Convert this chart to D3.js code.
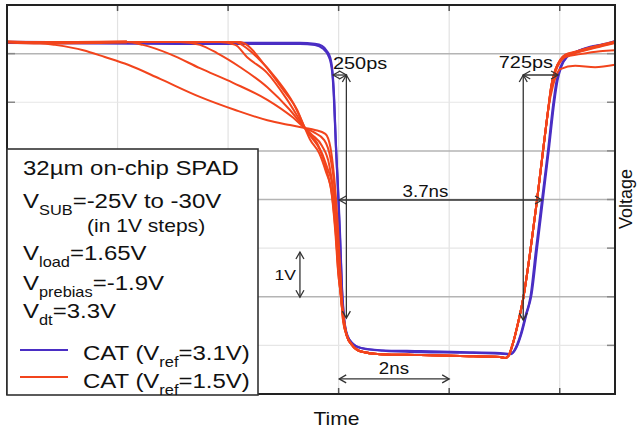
<!DOCTYPE html>
<html>
<head>
<meta charset="utf-8">
<script src="https://cdn.jsdelivr.net/npm/d3@7"></script>
<style>
  html, body { margin: 0; padding: 0; background: #fff; }
  svg { display: block; font-family: "Liberation Sans", Arial, sans-serif; }
</style>
</head>
<body>
<div id="chart"></div>
<script>
// time in ns, voltage in V (one grid division = 2 ns horizontally, 1 V vertically)
const xGrid = [2, 4, 6, 8, 10];
const yGridStrong = [7, 5, 4, 2];
const yGridFaint = [6, 3, 1];

// CAT, Vref = 3.1V (blue traces, nearly identical for every VSUB)
const blueA = [[0,7.24],[3.49,7.22],[5.30,7.22],[5.57,7.20],[5.70,7.16],[5.79,7.05],[5.85,6.91],[5.88,6.72],[5.90,6.46],[5.92,6.05],[5.95,5.12],[5.99,4.20],[6.03,3.17],[6.06,2.14],[6.10,1.52],[6.15,1.21],[6.24,1.05],[6.39,0.95],[6.75,0.90],[7.48,0.88],[8.20,0.86],[8.92,0.84],[9.10,0.82],[9.18,0.90],[9.29,1.21],[9.38,1.60],[9.47,1.99],[9.57,2.96],[9.68,3.99],[9.79,5.02],[9.88,5.94],[9.94,6.42],[10.01,6.72],[10.12,6.93],[10.28,7.03],[10.55,7.14],[10.82,7.20],[11.0,7.26]];
const blueB = [[0,7.22],[3.49,7.20],[5.30,7.20],[5.57,7.18],[5.72,7.10],[5.81,6.97],[5.86,6.80],[5.89,6.55],[5.91,6.20],[5.94,5.40],[5.98,4.40],[6.02,3.30],[6.06,2.20],[6.10,1.55],[6.16,1.20],[6.26,1.03],[6.42,0.94],[6.80,0.89],[7.50,0.86],[8.20,0.85],[8.92,0.83],[9.12,0.82],[9.20,0.92],[9.31,1.25],[9.40,1.65],[9.49,2.05],[9.59,3.00],[9.70,4.05],[9.81,5.10],[9.90,6.00],[9.96,6.45],[10.03,6.74],[10.14,6.94],[10.30,7.04],[10.60,7.14],[11.0,7.24]];

// CAT, Vref = 1.5V (red traces, VSUB = -25V ... -30V): falling edges
const redFall = [
  [[0,7.24],[0.60,7.22],[0.87,7.18],[1.38,7.07],[1.77,6.93],[2.19,6.77],[2.77,6.48],[3.49,6.11],[4.13,5.84],[4.71,5.63],[5.12,5.53],[5.39,5.47],[5.57,5.43],[5.76,5.35],[5.85,5.08],[5.90,4.67],[5.94,4.20],[5.99,3.37],[6.03,2.55],[6.06,1.93],[6.10,1.52],[6.15,1.19]],
  [[0,7.24],[2.17,7.24],[2.46,7.18],[2.95,6.99],[3.49,6.70],[4.09,6.40],[4.71,6.05],[5.18,5.68],[5.39,5.47],[5.54,5.39],[5.74,5.22],[5.85,4.86],[5.92,4.30],[5.97,3.37],[6.03,2.45],[6.06,1.83],[6.10,1.48],[6.15,1.19]],
  [[0,7.24],[3.13,7.24],[3.49,7.18],[3.80,7.01],[4.22,6.72],[4.71,6.31],[5.12,5.84],[5.39,5.47],[5.52,5.33],[5.70,5.10],[5.83,4.71],[5.90,4.20],[5.96,3.37],[6.01,2.50],[6.05,1.88],[6.09,1.50],[6.15,1.19]],
  [[0,7.24],[3.86,7.24],[4.13,7.18],[4.34,6.93],[4.71,6.60],[5.07,6.05],[5.39,5.47],[5.50,5.29],[5.67,5.00],[5.79,4.57],[5.88,4.09],[5.95,3.27],[6.00,2.50],[6.05,1.90],[6.09,1.50],[6.15,1.19]],
  [[0,7.24],[4.13,7.24],[4.22,7.20],[4.52,6.93],[4.89,6.46],[5.18,5.98],[5.39,5.47],[5.48,5.24],[5.65,4.95],[5.77,4.57],[5.87,4.15],[5.94,3.33],[5.99,2.52],[6.05,1.92],[6.08,1.51],[6.15,1.19]],
  [[0,7.24],[4.22,7.24],[4.34,7.18],[4.63,6.81],[5.00,6.25],[5.25,5.84],[5.39,5.47],[5.61,5.16],[5.79,4.67],[5.90,4.20],[5.95,3.37],[5.99,2.55],[6.05,1.93],[6.08,1.52],[6.15,1.19]]
];
// shared bottom and rising edge
const redTail = [[6.24,1.01],[6.39,0.88],[6.75,0.82],[7.48,0.80],[8.20,0.78],[8.92,0.76],[9.01,0.74],[9.07,0.78],[9.14,0.99],[9.25,1.48],[9.34,1.97],[9.47,2.96],[9.59,3.99],[9.70,5.02],[9.79,5.84]];
// settling after the rising edge
const redEnd = [
  [[9.85,6.35],[9.92,6.66],[10.01,6.87],[10.10,6.97],[10.28,7.03],[10.64,7.14],[11.0,7.24]],
  [[9.85,6.35],[9.92,6.66],[10.01,6.86],[10.10,6.96],[10.28,7.02],[10.64,7.13],[11.0,7.23]],
  [[9.85,6.33],[9.92,6.64],[10.01,6.85],[10.10,6.95],[10.28,7.01],[10.64,7.12],[11.0,7.22]],
  [[9.85,6.36],[9.92,6.67],[10.01,6.88],[10.10,6.98],[10.28,7.04],[10.64,7.15],[11.0,7.25]],
  [[9.85,6.30],[9.92,6.62],[10.01,6.83],[10.10,6.93],[10.37,6.99],[10.73,7.05],[11.0,7.07]],
  [[9.88,6.35],[9.94,6.56],[10.01,6.68],[10.28,6.75],[10.64,6.72],[11.0,6.77]]
];

// annotations: horizontal spans [t0, t1] at v, vertical spans [v0, v1] at t
const hSpans = [
  { label: "3.7ns", t0: 6.01, t1: 9.68, v: 3.99 },
  { label: "2ns", t0: 6.01, t1: 8.00, v: 0.31 },
  { label: "", t0: 5.90, t1: 6.14, v: 6.56 },
  { label: "", t0: 9.34, t1: 9.97, v: 6.56 }
];
const vSpans = [
  { t: 6.14, v0: 6.56, v1: 1.56 },
  { t: 9.34, v0: 6.56, v1: 1.52 },
  { t: 5.30, v0: 2.92, v1: 1.99 }
];

const W = 637, H = 431;
const SX = 1.17; // text in the original is slightly stretched horizontally
const blue = "#4a2ec4", red = "#f2441c";

const svg = d3.select("#chart").append("svg").attr("width", W).attr("height", H);

const defs = svg.append("defs");
defs.append("marker")
  .attr("id", "arr")
  .attr("viewBox", "-1 -5 10 10")
  .attr("markerUnits", "userSpaceOnUse")
  .attr("markerWidth", 10).attr("markerHeight", 10)
  .attr("refX", 7).attr("refY", 0)
  .attr("orient", "auto-start-reverse")
  .append("path")
  .attr("d", "M0,-4L7,0L0,4")
  .attr("fill", "none").attr("stroke", "#333").attr("stroke-width", 1.3);

const x = d3.scaleLinear().domain([0, 11]).range([7, 615]);
const y = d3.scaleLinear().domain([0, 8]).range([394, 5]);

// grid
svg.append("g").selectAll("line").data(xGrid).join("line")
  .attr("x1", d => x(d)).attr("x2", d => x(d))
  .attr("y1", y(8)).attr("y2", y(0))
  .attr("stroke", "#e2e2e2").attr("stroke-width", 1.2);
svg.append("g").selectAll("line").data(yGridFaint).join("line")
  .attr("x1", x(0)).attr("x2", x(11))
  .attr("y1", d => y(d)).attr("y2", d => y(d))
  .attr("stroke", "#e6e6e6").attr("stroke-width", 1.2);
svg.append("g").selectAll("line").data(yGridStrong).join("line")
  .attr("x1", x(0)).attr("x2", x(11))
  .attr("y1", d => y(d)).attr("y2", d => y(d))
  .attr("stroke", "#b4b4b4").attr("stroke-width", 1.5);

// ticks on the frame
const tk = svg.append("g").attr("stroke", "#555").attr("stroke-width", 1.5);
xGrid.forEach(t => {
  tk.append("line").attr("x1", x(t)).attr("x2", x(t)).attr("y1", y(8)).attr("y2", y(8) + 6);
  tk.append("line").attr("x1", x(t)).attr("x2", x(t)).attr("y1", y(0)).attr("y2", y(0) - 6);
});
d3.range(1, 8).forEach(v => {
  tk.append("line").attr("x1", x(0)).attr("x2", x(0) + 8).attr("y1", y(v)).attr("y2", y(v)).attr("stroke", "#888");
  tk.append("line").attr("x1", x(11)).attr("x2", x(11) - 8).attr("y1", y(v)).attr("y2", y(v)).attr("stroke", "#888");
});

// traces
const line = d3.line().x(d => x(d[0])).y(d => y(d[1])).curve(d3.curveMonotoneX);
const traces = svg.append("g").attr("fill", "none").attr("stroke-linejoin", "round");
[blueB, blueA].forEach(s => {
  traces.append("path").attr("d", line(s)).attr("stroke", blue).attr("stroke-width", 2.2);
});
redFall.forEach((f, i) => {
  traces.append("path").attr("d", line(f.concat(redTail, redEnd[i])))
    .attr("stroke", red).attr("stroke-width", 2);
});
// thicker flat top where all traces overlap
traces.append("path").attr("d", line(redFall[0].slice(0, 2).concat([[2.17, 7.24]])))
  .attr("stroke", red).attr("stroke-width", 3.2);

// frame
svg.append("rect").attr("x", x(0)).attr("y", y(8))
  .attr("width", x(11) - x(0)).attr("height", y(0) - y(8))
  .attr("fill", "none").attr("stroke", "#222").attr("stroke-width", 2);

// annotations
const ann = svg.append("g").attr("stroke", "#333").attr("stroke-width", 1.3).attr("fill", "none");
hSpans.forEach(s => {
  ann.append("line").attr("x1", x(s.t0)).attr("x2", x(s.t1)).attr("y1", y(s.v)).attr("y2", y(s.v))
    .attr("marker-start", "url(#arr)").attr("marker-end", "url(#arr)");
});
vSpans.forEach(s => {
  ann.append("line").attr("x1", x(s.t)).attr("x2", x(s.t)).attr("y1", y(s.v0)).attr("y2", y(s.v1))
    .attr("marker-start", "url(#arr)").attr("marker-end", "url(#arr)");
});

function label(g, tx, ty, size, anchor) {
  return g.append("text")
    .attr("transform", `translate(${tx},${ty}) scale(${SX},1)`)
    .attr("font-size", size).attr("text-anchor", anchor || "start").attr("fill", "#111");
}
const txt = svg.append("g");
label(txt, x(7.57), 197, 16, "middle").text(hSpans[0].label);
label(txt, x(7.0), 374, 16, "middle").text(hSpans[1].label);
label(txt, 333, 69, 17).text("250ps");
label(txt, 553, 68, 17, "end").text("725ps");
label(txt, 296, 280, 15, "end").text("1V");
label(txt, 336.5, 425, 18, "middle").text("Time");
svg.append("text")
  .attr("transform", "translate(632,199) rotate(-90)")
  .attr("font-size", 18).attr("text-anchor", "middle").attr("fill", "#111")
  .text("Voltage");

// legend box
const lg = svg.append("g");
lg.append("rect").attr("x", 7).attr("y", 149).attr("width", 251).attr("height", 246)
  .attr("fill", "#fff").attr("stroke", "#333").attr("stroke-width", 1.6);

function sub(t, main, s, rest) {
  t.append("tspan").text(main);
  t.append("tspan").attr("font-size", 14).attr("dy", 7).text(s);
  t.append("tspan").attr("dy", -7).text(rest);
}
label(lg, 23, 175, 20.5).text("32\u00b5m on-chip SPAD");
sub(label(lg, 23, 208, 20.5), "V", "SUB", "=-25V to -30V");
label(lg, 87, 232, 18).text("(in 1V steps)");
sub(label(lg, 23, 260, 20.5), "V", "load", "=1.65V");
sub(label(lg, 23, 290, 20.5), "V", "prebias", "=-1.9V");
sub(label(lg, 23, 318, 20.5), "V", "dt", "=3.3V");

lg.append("line").attr("x1", 20).attr("x2", 68).attr("y1", 350).attr("y2", 350)
  .attr("stroke", blue).attr("stroke-width", 2);
lg.append("line").attr("x1", 20).attr("x2", 68).attr("y1", 377).attr("y2", 377)
  .attr("stroke", red).attr("stroke-width", 2);
sub(label(lg, 83, 360, 20.5), "CAT (V", "ref", "=3.1V)");
sub(label(lg, 83, 388, 20.5), "CAT (V", "ref", "=1.5V)");
</script>
</body>
</html>
